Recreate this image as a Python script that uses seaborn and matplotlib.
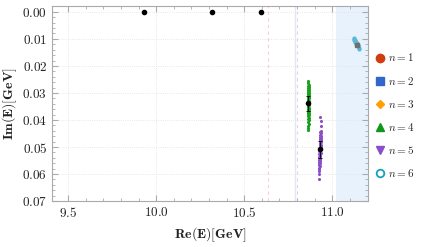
import numpy as np
import pandas as pd
import seaborn as sns
import matplotlib
matplotlib.use("Agg")
import matplotlib.pyplot as plt
from matplotlib.lines import Line2D
from matplotlib.ticker import MultipleLocator, FuncFormatter

# sample clouds for each pole
n1_x = [9.932, 9.936, 9.934]
n1_y = [0.0002, 0.0001, 0.0003]
n2_x = [10.314, 10.318, 10.316]
n2_y = [0.0002, 0.0001, 0.0003]
n3_x = [10.594, 10.598, 10.596]
n3_y = [0.0002, 0.0001, 0.0003]

n4_y = [0.0256, 0.0263, 0.0270, 0.0275, 0.0279, 0.0283, 0.0286, 0.0289,
        0.0292, 0.0295, 0.0298, 0.0301, 0.0304, 0.0307, 0.0310, 0.0313,
        0.0316, 0.0319, 0.0322, 0.0325, 0.0328, 0.0331, 0.0334, 0.0337,
        0.0340, 0.0343, 0.0346, 0.0349, 0.0352, 0.0355, 0.0358, 0.0361,
        0.0364, 0.0367, 0.0370, 0.0373, 0.0376, 0.0379, 0.0383, 0.0387,
        0.0391, 0.0396, 0.0401, 0.0407, 0.0414, 0.0422, 0.0431, 0.0438]
n4_x = [10.864, 10.861, 10.867, 10.863, 10.866, 10.860, 10.865, 10.862,
        10.868, 10.864, 10.861, 10.866, 10.863, 10.867, 10.860, 10.865,
        10.862, 10.868, 10.864, 10.861, 10.866, 10.863, 10.867, 10.860,
        10.865, 10.862, 10.868, 10.864, 10.861, 10.866, 10.863, 10.867,
        10.860, 10.865, 10.862, 10.868, 10.864, 10.861, 10.866, 10.863,
        10.865, 10.862, 10.866, 10.863, 10.865, 10.862, 10.864, 10.863]

n5_y = [0.0390, 0.0405, 0.0421, 0.0441, 0.0446, 0.0450, 0.0454, 0.0458,
        0.0462, 0.0466, 0.0470, 0.0473, 0.0476, 0.0479, 0.0482, 0.0485,
        0.0488, 0.0491, 0.0494, 0.0497, 0.0500, 0.0503, 0.0506, 0.0509,
        0.0512, 0.0515, 0.0518, 0.0521, 0.0524, 0.0527, 0.0530, 0.0533,
        0.0536, 0.0539, 0.0542, 0.0545, 0.0548, 0.0551, 0.0554, 0.0558,
        0.0562, 0.0566, 0.0571, 0.0576, 0.0582, 0.0589, 0.0600, 0.0618]
n5_x = [10.932, 10.934, 10.933, 10.934, 10.930, 10.936, 10.932, 10.935,
        10.931, 10.934, 10.930, 10.935, 10.932, 10.929, 10.934, 10.931,
        10.928, 10.933, 10.930, 10.934, 10.929, 10.932, 10.927, 10.933,
        10.930, 10.926, 10.932, 10.929, 10.933, 10.927, 10.931, 10.928,
        10.925, 10.930, 10.927, 10.931, 10.926, 10.929, 10.924, 10.928,
        10.926, 10.923, 10.928, 10.925, 10.927, 10.924, 10.926, 10.925]

n6_x = [11.121, 11.124, 11.123, 11.127, 11.126, 11.130, 11.129, 11.133, 11.132, 11.135,
        11.136, 11.138, 11.139, 11.141, 11.142, 11.144, 11.145, 11.147, 11.149, 11.151]
n6_y = [0.0098, 0.0100, 0.0103, 0.0104, 0.0107, 0.0108, 0.0111, 0.0112, 0.0115, 0.0114,
        0.0118, 0.0117, 0.0121, 0.0120, 0.0124, 0.0123, 0.0127, 0.0128, 0.0132, 0.0136]

# central values with errors
mean_x = [9.934, 10.316, 10.596, 10.864, 10.930]
mean_y = [0.0, 0.0, 0.0, 0.0339, 0.0508]
mean_yerr = [0.0, 0.0, 0.0, 0.0026, 0.0031]
grey_x = [11.140]
grey_y = [0.0123]

thresholds = [10.632, 10.800]
blue_line = 10.786
band = (11.021, 11.25)

colors = ['#d03c10', '#3366cc', '#ffa000', '#109618', '#8a4fc7', '#1a9fbf']
cloud_cols = ['#d03c10', '#3366cc', '#ffa000', '#16a01c', '#8a4fc7', '#5ab8d8']

sns.set_style('ticks')
plt.rcParams['mathtext.fontset'] = 'cm'
plt.rcParams['font.family'] = ['DejaVu Serif']

fig = plt.figure(figsize=(4.24, 2.47), dpi=100)
ax = fig.add_axes([0.123, 0.186, 0.744, 0.790])

ax.axvspan(band[0], band[1], color='#e8f2fc', zorder=0, lw=0)
ax.axvline(blue_line, color='#dceaf7', lw=1.0, zorder=0)
for t in thresholds:
    ax.axvline(t, color='#f9cdd3', lw=0.8, ls=(0, (3, 3)), zorder=0.5)

clouds = [(n1_x, n1_y), (n2_x, n2_y), (n3_x, n3_y), (n4_x, n4_y), (n5_x, n5_y), (n6_x, n6_y)]
for i, (cx, cy) in enumerate(clouds):
    df = pd.DataFrame({'x': cx, 'y': cy})
    sns.scatterplot(data=df, x='x', y='y', ax=ax, color=cloud_cols[i],
                    s=9 if i == 5 else 5, linewidth=0, zorder=2)

ax.errorbar(mean_x, mean_y, yerr=mean_yerr, fmt='o', color='black', ms=3,
            elinewidth=0.6, capsize=1.5, capthick=0.6, zorder=4)
ax.plot(grey_x, grey_y, 's', color='#707070', ms=3.5, zorder=4)

ax.set_xlim(9.41, 11.2)
ax.set_ylim(0.07, -0.0022)
ax.xaxis.set_major_locator(MultipleLocator(0.5))
ax.xaxis.set_minor_locator(MultipleLocator(0.1))
ax.yaxis.set_major_locator(MultipleLocator(0.01))
ax.yaxis.set_minor_locator(MultipleLocator(0.002))
ax.xaxis.set_major_formatter(FuncFormatter(lambda v, p: r'$\mathbf{%.1f}$' % v))
ax.yaxis.set_major_formatter(FuncFormatter(lambda v, p: r'$\mathbf{%.2f}$' % abs(v)))
ax.tick_params(which='both', direction='in', top=True, right=True, color='#aaaaaa',
               labelsize=9.5, labelcolor='#222222')
ax.tick_params(which='major', length=4)
ax.tick_params(which='minor', length=2)
for s in ax.spines.values():
    s.set_color('#aaaaaa')
    s.set_linewidth(0.8)
ax.grid(True, which='major', ls=':', color='#e2e2e2', lw=0.6)
ax.set_axisbelow(True)

ax.set_xlabel(r'$\mathbf{Re(E)[GeV]}$', fontsize=10, color='#222222')
ax.set_ylabel(r'$\mathbf{Im(E)[GeV]}$', fontsize=10, color='#222222', labelpad=2)

markers = ['o', 's', 'D', '^', 'v', 'o']
handles = []
for i in range(6):
    if i == 5:
        h = Line2D([], [], marker='o', ls='', ms=5.5, mfc='white', mec=colors[i], mew=1.3)
    else:
        h = Line2D([], [], marker=markers[i], ls='', ms=6 if i != 2 else 4.5,
                   mfc=colors[i], mec=colors[i])
    handles.append(h)
labels = [r'$n=%d$' % (i + 1) for i in range(6)]
ax.legend(handles, labels, loc='center left', bbox_to_anchor=(1.0, 0.44), frameon=False,
          fontsize=8, handlelength=0.8, handletextpad=0.3, labelspacing=1.0,
          borderaxespad=0.3)

fig.savefig('out.png', dpi=100)
